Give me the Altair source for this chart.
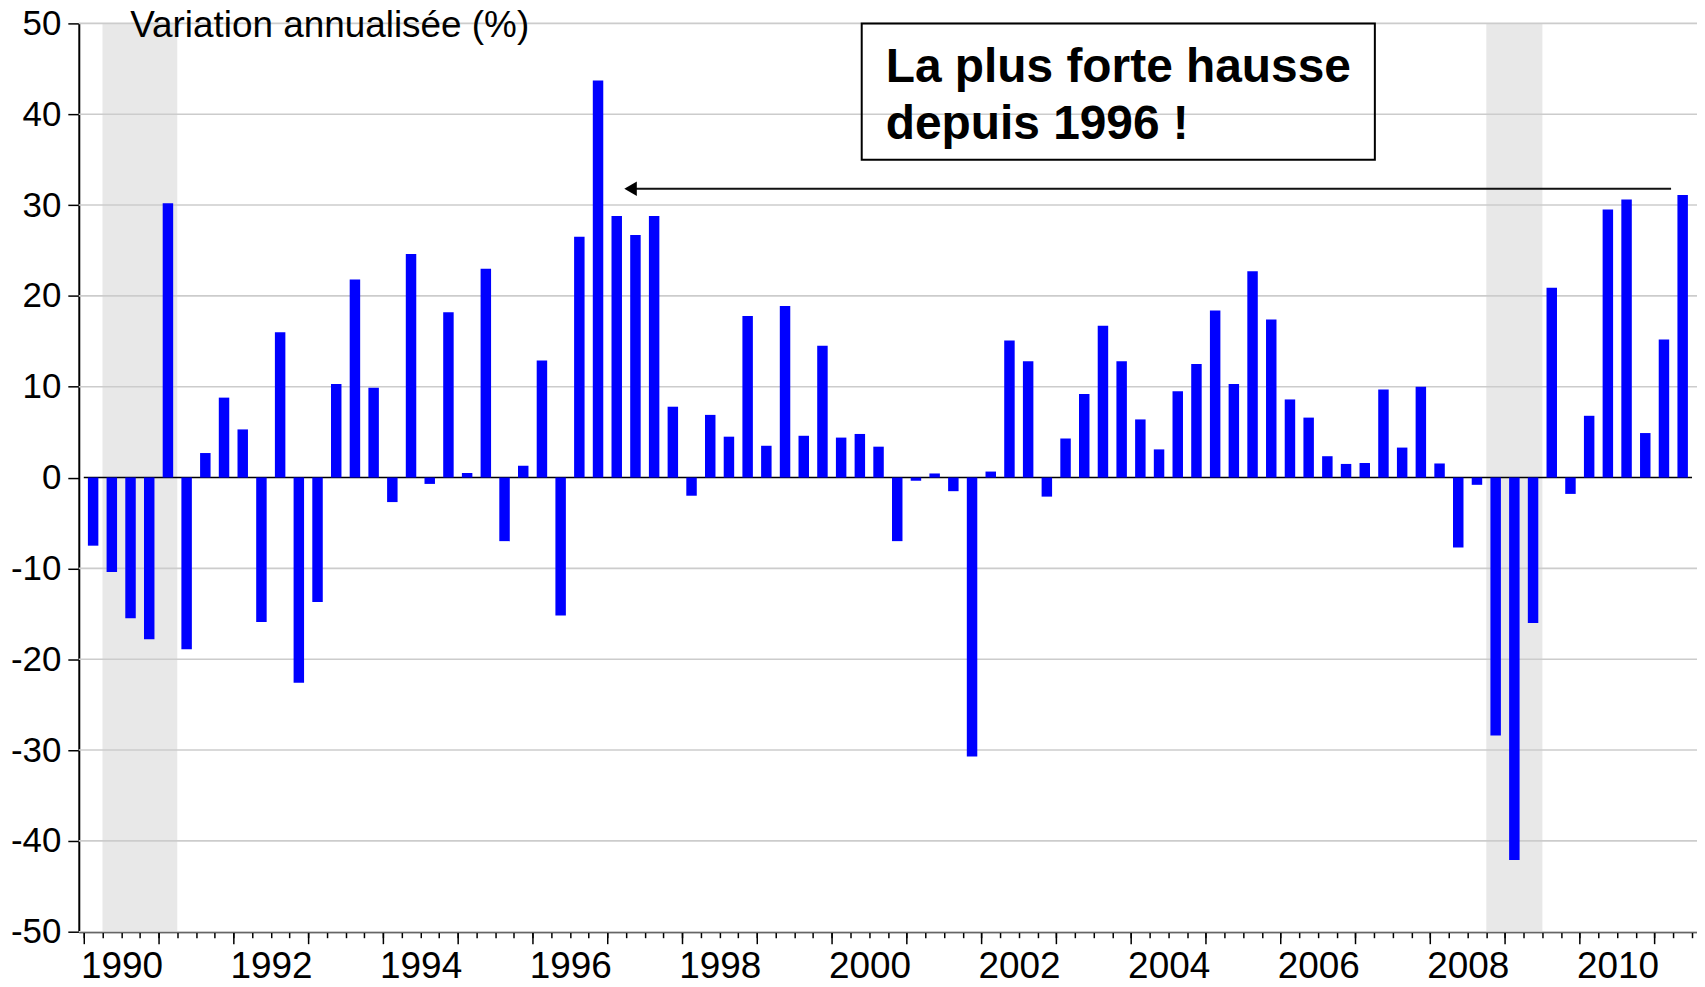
import altair as alt
import pandas as pd

# ---------------- data ----------------
start_year = 1990
values = [-7.5, -10.4, -15.5, -17.8, 30.2, -18.9, 2.7, 8.8, 5.3, -15.9,
          16.0, -22.6, -13.7, 10.3, 21.8, 9.9, -2.7, 24.6, -0.7, 18.2,
          0.5, 23.0, -7.0, 1.3, 12.9, -15.2, 26.5, 43.7, 28.8, 26.7,
          28.8, 7.8, -2.0, 6.9, 4.5, 17.8, 3.5, 18.9, 4.6, 14.5,
          4.4, 4.8, 3.4, -7.0, -0.35, 0.45, -1.5, -30.7, 0.66, 15.1,
          12.8, -2.1, 4.3, 9.2, 16.7, 12.8, 6.4, 3.1, 9.5, 12.5,
          18.4, 10.3, 22.7, 17.4, 8.6, 6.6, 2.35, 1.5, 1.6, 9.7,
          3.3, 10.0, 1.55, -7.7, -0.8, -28.4, -42.1, -16.0, 20.9, -1.8,
          6.8, 29.5, 30.6, 4.9, 15.2, 31.1]
quarters = [f"{start_year + i // 4}T{i % 4 + 1}" for i in range(len(values))]

rec_start = [1990.25, 2008.75]
rec_end = [1991.25, 2009.5]

grid_values = [-50, -40, -30, -20, -10, 10, 20, 30, 40, 50]
y_ticks = [-50, -40, -30, -20, -10, 0, 10, 20, 30, 40, 50]
year_ticks = list(range(1990, 2012))
quarter_ticks = [1990 + q / 4 for q in range(0, 87)]

y_title = "Variation annualisée (%)"
box_lines = ["La plus forte hausse", "depuis 1996 !"]

# ---------------- tables ----------------
df = pd.DataFrame({"q": quarters, "v": values})
df["t"] = [int(s[:4]) + (int(s[-1]) - 0.5) / 4 for s in quarters]
rec_df = pd.DataFrame({"start": rec_start, "end": rec_end})
grid_df = pd.DataFrame({"g": grid_values})
title_df = pd.DataFrame({"x": [1990.62], "y": [48.45], "txt": [y_title]})
box_df = pd.DataFrame({"x1": [2000.4], "x2": [2007.26], "y1": [35.0], "y2": [50.0]})
boxtxt_df = pd.DataFrame({"x": [2000.72, 2000.72], "y": [43.5, 37.3], "txt": box_lines})
arrow_df = pd.DataFrame({"x1": [1997.31], "x2": [2011.22], "y": [31.8]})

W, H = 1623, 911
FONT = "Liberation Sans"
xs = alt.Scale(domain=[1990, 2011.5], nice=False, zero=False)
ys = alt.Scale(domain=[-50, 50], nice=False, zero=False)

y_axis = alt.Axis(values=y_ticks, orient="left", tickSize=11, tickWidth=1.5, tickColor="black",
                  domain=True, domainColor="black", domainWidth=2,
                  labelExpr="datum.value < 0 ? '-' + abs(datum.value) : '' + datum.value",
                  labelFontSize=35, labelFont=FONT, labelColor="black",
                  labelPadding=7, grid=False, title=None)
x_major = alt.Axis(values=year_ticks, orient="bottom", tickSize=12, tickWidth=1.5,
                   tickColor="black", domain=True, domainColor="black", domainWidth=2,
                   format="d", labelExpr="datum.value % 2 == 0 ? datum.label : ''",
                   labelOffset=37.75, labelFlush=False, labelOverlap=False,
                   labelFontSize=37, labelFont=FONT, labelColor="black",
                   labelPadding=5, grid=False, title=None)
x_minor = alt.Axis(values=quarter_ticks, orient="bottom", tickSize=6, tickWidth=1.5,
                   tickColor="black", domain=False, labels=False, grid=False, title=None)

# first layer carries the y axis
shade = alt.Chart(rec_df).mark_rect(color="#e8e8e8").encode(
    x=alt.X("start:Q", scale=xs, axis=None), x2="end:Q",
    y=alt.Y(datum=50, scale=ys, axis=y_axis), y2=alt.datum(-50))

grid = alt.Chart(grid_df).mark_rule(color="#cccccc", strokeWidth=1.6).encode(
    y=alt.Y("g:Q", scale=ys, axis=None))

bars = alt.Chart(df).mark_bar(color="#0000ff", size=10.5).encode(
    x=alt.X("t:Q", scale=xs, axis=x_major),
    y=alt.Y("v:Q", scale=ys, axis=None), y2=alt.datum(0),
    tooltip=["q:N", "v:Q"])

zero = alt.Chart(pd.DataFrame({"z": [0]})).mark_rule(color="black", strokeWidth=1.6).encode(
    x=alt.X(datum=1990, scale=xs, axis=x_minor), x2=alt.datum(2011.5),
    y=alt.Y("z:Q", scale=ys, axis=None))

title = alt.Chart(title_df).mark_text(align="left", baseline="alphabetic", fontSize=37,
                                      font=FONT, color="black").encode(
    x=alt.X("x:Q", scale=xs, axis=None), y=alt.Y("y:Q", scale=ys, axis=None), text="txt:N")

box = alt.Chart(box_df).mark_rect(fill=None, stroke="black", strokeWidth=2).encode(
    x=alt.X("x1:Q", scale=xs, axis=None), x2="x2:Q",
    y=alt.Y("y1:Q", scale=ys, axis=None), y2="y2:Q")

boxtxt = alt.Chart(boxtxt_df).mark_text(align="left", baseline="alphabetic", fontSize=48,
                                        fontWeight="bold", font=FONT, color="black").encode(
    x=alt.X("x:Q", scale=xs, axis=None), y=alt.Y("y:Q", scale=ys, axis=None), text="txt:N")

arrow_line = alt.Chart(arrow_df).mark_rule(color="#111111", strokeWidth=2).encode(
    x=alt.X("x1:Q", scale=xs, axis=None), x2="x2:Q",
    y=alt.Y("y:Q", scale=ys, axis=None))

arrow_head = alt.Chart(arrow_df).mark_point(shape="triangle-left", filled=True, size=210,
                                            color="black", opacity=1).encode(
    x=alt.X("x1:Q", scale=xs, axis=None), y=alt.Y("y:Q", scale=ys, axis=None))

chart = alt.layer(shade, grid, zero, bars, title, box, boxtxt, arrow_line, arrow_head).resolve_axis(
    x="independent", y="independent"
).properties(
    width=W, height=H,
    autosize=alt.AutoSizeParams(type="none"),
    padding={"left": 71, "top": 14, "right": 0, "bottom": 52},
    background="white",
).configure_view(stroke=None)

chart.save("out.html", embed_options={"renderer": "svg", "actions": False})
